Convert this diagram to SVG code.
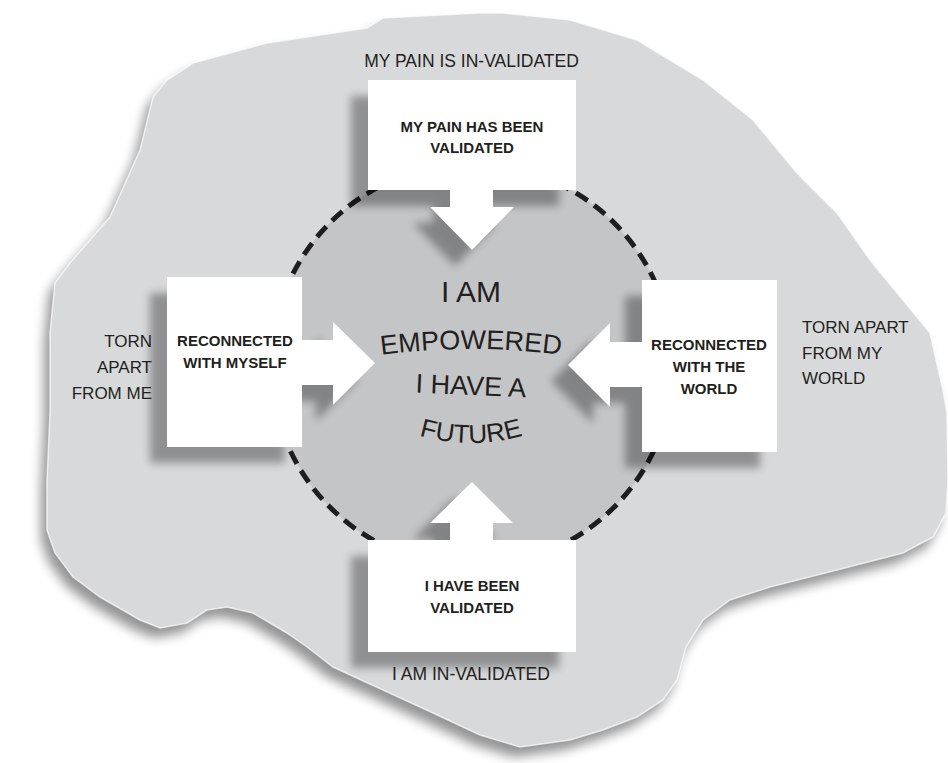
<svg xmlns="http://www.w3.org/2000/svg" xmlns:xlink="http://www.w3.org/1999/xlink" width="948" height="763" viewBox="0 0 948 763">
<style>
.lbl{font-family:"Liberation Sans",Arial,sans-serif;font-size:17.5px;fill:#231f20}
.side{font-family:"Liberation Sans",Arial,sans-serif;font-size:17px;fill:#231f20}
.bx{font-family:"Liberation Sans",Arial,sans-serif;font-size:15px;font-weight:bold;fill:#231f20;text-anchor:middle}
.ctr{font-family:"Liberation Sans",Arial,sans-serif;fill:#231f20;text-anchor:middle}
.box{fill:#ffffff}
.arrow{fill:#ffffff}
</style>
<defs>
<filter id="blurS" x="-20%" y="-20%" width="140%" height="140%"><feGaussianBlur stdDeviation="4"/></filter>
<filter id="blurB" x="-10%" y="-10%" width="120%" height="120%"><feGaussianBlur stdDeviation="6"/></filter>
<path id="blobPath" d="M480,13 L503,13 L570,20 L637,40 L703,80 L753,120 L797,173 L837,213 L870,260 L903,300 L930,333 L943,390 L947,413 L948,480 L946,513 L933,537 L903,553 L837,570 L770,587 L730,600 L703,620 L686,647 L677,680 L663,700 L637,717 L603,730 L570,740 L520,747 L480,735 L433,713 L383,690 L333,667 L307,647 L287,633 L253,613 L227,607 L207,610 L187,623 L160,628 L140,620 L100,597 L73,577 L55,553 L47,530 L47,480 L50,413 L50,333 L55,283 L70,263 L110,217 L140,150 L153,97 L167,80 L193,63 L267,43 L367,28 L383,18 Z"/>
<path id="arcEmp" d="M360,358 Q471,340 582,358"/>
<path id="arcFut" d="M400,429 Q471,457 542,429"/>
</defs>

<g id="background">
<use xlink:href="#blobPath" href="#blobPath" transform="translate(-6,10)" fill="#000" opacity="0.42" filter="url(#blurB)"/>
<use xlink:href="#blobPath" href="#blobPath" fill="#d8d9db" stroke="#ffffff" stroke-width="1.5" stroke-opacity="0.7"/>
<circle id="core-circle" cx="472" cy="365" r="201" fill="#c4c5c7" stroke="#1e1e1e" stroke-width="5" stroke-dasharray="14 8"/>
</g>

<g id="shadows" opacity="0.33" filter="url(#blurS)" transform="translate(-17,16)">
<rect x="368" y="80" width="208" height="110" fill="#000"/>
<path d="M450,189 L493,189 L493,207 L514,207 L472,250 L430,207 L450,207 Z" fill="#000"/>
<rect x="167" y="277" width="135" height="170" fill="#000"/>
<path d="M301,340 L333,340 L333,322 L375,363 L333,405 L333,385 L301,385 Z" fill="#000"/>
<rect x="642" y="280" width="135" height="172" fill="#000"/>
<path d="M643,342 L610,342 L610,323 L568,365 L610,407 L610,387 L643,387 Z" fill="#000"/>
<rect x="368" y="540" width="208" height="112" fill="#000"/>
<path d="M450,541 L450,523 L430,523 L472,482 L513,523 L493,523 L493,541 Z" fill="#000"/>
</g>

<g id="connectors">
<path class="arrow" d="M450,189 L493,189 L493,207 L514,207 L472,250 L430,207 L450,207 Z"/>
<path class="arrow" d="M301,340 L333,340 L333,322 L375,363 L333,405 L333,385 L301,385 Z"/>
<path class="arrow" d="M643,342 L610,342 L610,323 L568,365 L610,407 L610,387 L643,387 Z"/>
<path class="arrow" d="M450,541 L450,523 L430,523 L472,482 L513,523 L493,523 L493,541 Z"/>
</g>

<g id="node-top">
<rect class="box" x="368" y="80" width="208" height="110"/>
<text class="bx" x="472" y="132">MY PAIN HAS BEEN</text>
<text class="bx" x="472" y="153">VALIDATED</text>
</g>
<g id="node-left">
<rect class="box" x="167" y="277" width="135" height="170"/>
<text class="bx" x="235" y="346">RECONNECTED</text>
<text class="bx" x="235" y="368">WITH MYSELF</text>
</g>
<g id="node-right">
<rect class="box" x="642" y="280" width="135" height="172"/>
<text class="bx" x="709" y="350">RECONNECTED</text>
<text class="bx" x="709" y="372">WITH THE</text>
<text class="bx" x="709" y="394">WORLD</text>
</g>
<g id="node-bottom">
<rect class="box" x="368" y="540" width="208" height="112"/>
<text class="bx" x="472" y="591">I HAVE BEEN</text>
<text class="bx" x="472" y="613">VALIDATED</text>
</g>

<g id="node-center">
<text class="ctr" x="471" y="302" font-size="30">I AM</text>
<text class="ctr" font-size="27"><textPath xlink:href="#arcEmp" href="#arcEmp" startOffset="50%">EMPOWERED</textPath></text>
<text class="ctr" x="471" y="395" font-size="27" transform="rotate(2.5 471 385)">I HAVE A</text>
<text class="ctr" font-size="26"><textPath xlink:href="#arcFut" href="#arcFut" startOffset="50%">FUTURE</textPath></text>
</g>

<g id="labels">
<text class="lbl" x="471.5" y="67" text-anchor="middle">MY PAIN IS IN-VALIDATED</text>
<text class="lbl" x="471" y="680" text-anchor="middle">I AM IN-VALIDATED</text>
<text class="side" x="152" y="347" text-anchor="end">TORN</text>
<text class="side" x="152" y="373" text-anchor="end">APART</text>
<text class="side" x="152" y="399" text-anchor="end">FROM ME</text>
<text class="side" x="802" y="333">TORN APART</text>
<text class="side" x="802" y="359">FROM MY</text>
<text class="side" x="802" y="384">WORLD</text>
</g>
</svg>
